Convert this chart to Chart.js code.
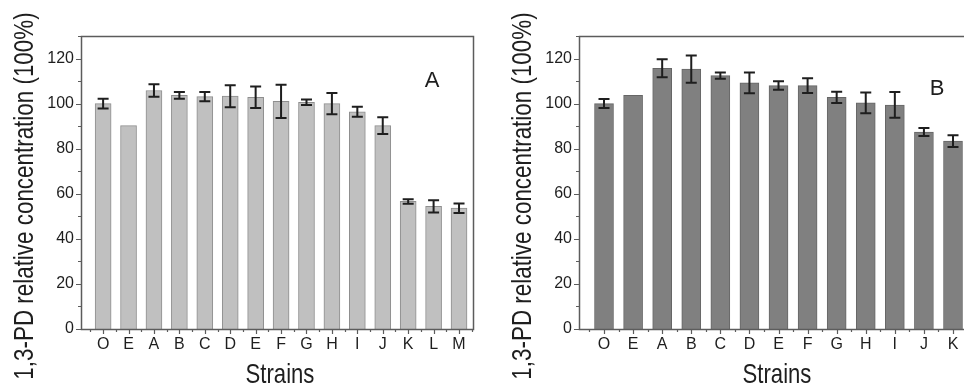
<!DOCTYPE html>
<html>
<head>
<meta charset="utf-8">
<script src="https://cdn.jsdelivr.net/npm/chart.js@4"></script>
<style>
html, body { margin: 0; padding: 0; background: #fff; }
#wrap { position: relative; width: 964px; height: 386px; overflow: hidden; }
.panel { position: absolute; top: 0; height: 386px; overflow: hidden; }
</style>
</head>
<body>
<div id="wrap">
  <div class="panel" style="left:0;width:480px"><canvas id="chartA" width="480" height="386"></canvas></div>
  <div class="panel" style="left:480px;width:484px"><canvas id="chartB" width="500" height="386"></canvas></div>
</div>
<script>
const strainsA = ['O', 'E', 'A', 'B', 'C', 'D', 'E', 'F', 'G', 'H', 'I', 'J', 'K', 'L', 'M'];
const valuesA = [100, 90.2, 105.8, 103.7, 103.1, 103.3, 102.8, 101, 100.6, 100, 96.4, 90.2, 56.6, 54.4, 53.6];
const errorsA = [2.2, 0, 2.8, 1.5, 2.1, 4.9, 4.8, 7.4, 1.2, 4.7, 2.2, 3.7, 1, 2.7, 2.1];

const strainsB = ['O', 'E', 'A', 'B', 'C', 'D', 'E', 'F', 'G', 'H', 'I', 'J', 'K'];
const valuesB = [100, 103.7, 115.7, 115.3, 112.4, 109.2, 108, 108, 102.8, 100.3, 99.4, 87.4, 83.4];
const errorsB = [2, 0, 4, 6, 1.4, 4.6, 1.9, 3.3, 2.5, 4.6, 5.7, 1.8, 2.6];

const yTicks = [0, 20, 40, 60, 80, 100, 120];
const yTitle = '1,3-PD relative concentration (100%)';
const xTitle = 'Strains';

const FONT = '"Liberation Sans", Arial, sans-serif';
const INK = '#1e1e1e';
const AXIS = '#5c5c5c';

// error bars, frame, ticks and titles
const figurePlugin = {
  id: 'figure',
  afterDatasetsDraw(chart, args, opts) {
    const ctx = chart.ctx, x = chart.scales.x, y = chart.scales.y, a = chart.chartArea;
    const data = chart.data.datasets[0].data;
    ctx.save();

    ctx.strokeStyle = INK;
    ctx.lineWidth = 2;
    opts.errors.forEach((e, i) => {
      if (!e) return;
      const px = x.getPixelForValue(i);
      const t = y.getPixelForValue(data[i].y + e);
      const b = y.getPixelForValue(data[i].y - e);
      ctx.beginPath();
      ctx.moveTo(px, t); ctx.lineTo(px, b);
      ctx.moveTo(px - 5.5, t); ctx.lineTo(px + 5.5, t);
      ctx.moveTo(px - 5.5, b); ctx.lineTo(px + 5.5, b);
      ctx.stroke();
    });

    // frame
    ctx.strokeStyle = AXIS;
    ctx.lineWidth = 1.5;
    ctx.strokeRect(a.left + 0.5, a.top + 0.5, a.right - a.left, a.bottom - a.top);

    // y ticks (major + minor)
    ctx.lineWidth = 1.2;
    ctx.beginPath();
    yTicks.forEach(v => {
      const py = Math.round(y.getPixelForValue(v)) + 0.5;
      ctx.moveTo(a.left - 5, py); ctx.lineTo(a.left, py);
      const pm = Math.round(y.getPixelForValue(v + 10)) + 0.5;
      ctx.moveTo(a.left - 3, pm); ctx.lineTo(a.left, pm);
    });
    // x ticks
    opts.strains.forEach((s, i) => {
      const px = Math.round(x.getPixelForValue(i)) + 0.5;
      ctx.moveTo(px, a.bottom); ctx.lineTo(px, a.bottom + 5);
      [i - 0.5, i + 0.5].forEach(m => {
        const pm = Math.round(x.getPixelForValue(m)) + 0.5;
        ctx.moveTo(pm, a.bottom); ctx.lineTo(pm, a.bottom + 3);
      });
    });
    ctx.stroke();

    // titles
    ctx.fillStyle = INK;
    ctx.textAlign = 'center';
    ctx.textBaseline = 'alphabetic';
    ctx.font = '28px ' + FONT;
    ctx.save();
    ctx.translate(opts.yTitleX, 196);
    ctx.rotate(-Math.PI / 2);
    ctx.scale(0.8, 1);
    ctx.fillText(yTitle, 0, 0);
    ctx.restore();

    ctx.save();
    ctx.translate((a.left + a.right) / 2 + 3, 383);
    ctx.scale(0.79, 1);
    ctx.fillText(xTitle, 0, 0);
    ctx.restore();

    ctx.font = '22px ' + FONT;
    ctx.fillText(opts.letter, opts.letterX, opts.letterY);
    ctx.restore();
  }
};

function makeChart(id, strains, values, errors, fill, edge, o) {
  return new Chart(document.getElementById(id), {
    type: 'bar',
    data: {
      datasets: [{
        data: values.map((v, i) => ({ x: i, y: v })),
        backgroundColor: fill,
        borderColor: edge,
        borderWidth: 1,
        barThickness: o.bar
      }]
    },
    options: {
      responsive: false,
      animation: false,
      layout: { padding: { top: 36, right: o.padRight, left: 0, bottom: 0 } },
      plugins: {
        legend: { display: false },
        tooltip: { enabled: false },
        figure: {
          errors: errors, strains: strains, letter: o.letter,
          letterX: o.letterX, letterY: o.letterY, yTitleX: o.yTitleX
        }
      },
      scales: {
        x: {
          type: 'linear', min: o.xMin, max: o.xMax, offset: false,
          grid: { display: false, drawTicks: true, tickLength: 5 },
          border: { display: false },
          afterBuildTicks: s => { s.ticks = strains.map((_, i) => ({ value: i })); },
          ticks: {
            callback: v => strains[v], autoSkip: false, maxRotation: 0,
            font: { size: 16, family: FONT }, color: INK, padding: 1
          },
          afterFit: s => { s.height = 57; }
        },
        y: {
          min: 0, max: 130,
          grid: { display: false, drawTicks: true, tickLength: 5 },
          border: { display: false },
          afterBuildTicks: s => { s.ticks = yTicks.map(v => ({ value: v })); },
          ticks: { font: { size: 16, family: FONT }, color: INK, padding: 2 },
          afterFit: s => { s.width = o.yWidth; }
        }
      }
    },
    plugins: [figurePlugin]
  });
}

makeChart('chartA', strainsA, valuesA, errorsA, '#c0c0c0', '#8e8e8e', {
  bar: 16, padRight: 7, yWidth: 81, xMin: -0.87, xMax: 14.55,
  letter: 'A', letterX: 432, letterY: 87, yTitleX: 33
});
makeChart('chartB', strainsB, valuesB, errorsB, '#808080', '#666', {
  bar: 19, padRight: 11, yWidth: 99, xMin: -0.86, xMax: 12.55,
  letter: 'B', letterX: 457, letterY: 95, yTitleX: 51
});
</script>
</body>
</html>
